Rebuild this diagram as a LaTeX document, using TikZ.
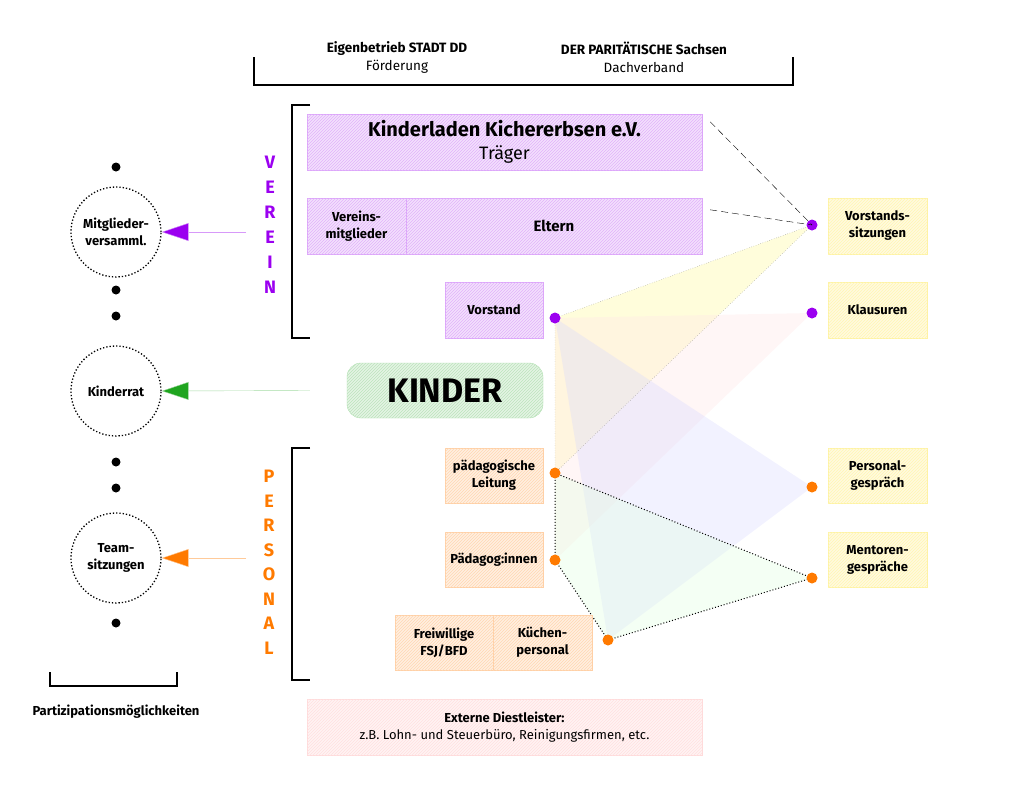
\documentclass[tikz,border=0pt]{standalone}
\usepackage{fontspec}
\setmainfont{Fira Sans}
\usetikzlibrary{patterns,arrows.meta}
\definecolor{verein}{HTML}{9B00F0}
\definecolor{personal}{HTML}{FF7A00}
\definecolor{kind}{HTML}{1FA51F}
\tikzset{
  box/.style={draw=#1!35,fill=#1!12,postaction={pattern=north east lines,pattern color=#1!30},
    inner sep=0pt,align=center,font=\fontsize{13}{17}\selectfont\bfseries},
  vbox/.style={box=verein},
  pbox/.style={box=personal},
  ybox/.style={box=yellow!80!orange},
  dot/.style={circle,fill=#1,inner sep=0pt,minimum size=11pt},
  forum/.style={circle,draw,dotted,line width=1.3pt,minimum size=90pt,align=center,
    font=\fontsize{13}{17}\selectfont\bfseries},
  bullet/.style={circle,fill=black,inner sep=0pt,minimum size=9pt},
  letter/.style={font=\fontsize{18}{18}\selectfont\bfseries,text=#1},
  lbl/.style={font=\fontsize{13.5}{18}\selectfont,align=center},
  tri/.style={fill=#1,fill opacity=0.35,draw=none}
}
\begin{document}
\begin{tikzpicture}[x=1pt,y=-1pt]
\useasboundingbox (0,0) rectangle (1024,804);
% top
\node[lbl] (stadt) at (397,57) {\textbf{Eigenbetrieb STADT DD}\\Förderung};
\node[lbl] (parit) at (644,57) {\textbf{DER PARITÄTISCHE Sachsen}\\Dachverband};
\draw[line width=1.3pt] (254,57) -- (254,85) -- (793,85) -- (793,57);
% brackets
\draw[line width=1.3pt] (310,105) -- (292,105) -- (292,338) -- (310,338);
\draw[line width=1.3pt] (310,448) -- (292,448) -- (292,680) -- (310,680);
\foreach \c [count=\i] in {V,E,R,E,I,N}
  \node[letter=verein] (v\i) at (270,137+25*\i) {\c};
\foreach \c [count=\i] in {P,E,R,S,O,N,A,L}
  \node[letter=personal] (p\i) at (269,452+24.5*\i) {\c};
% triangles
\coordinate (dV) at (555,318);
\coordinate (dL) at (555,473);
\coordinate (dP) at (555,560);
\coordinate (dK) at (608,640);
\coordinate (dS) at (812,225);
\coordinate (dX) at (812,313);
\coordinate (dG) at (812,487);
\coordinate (dM) at (812,578);
\fill[tri=yellow!40] (dV) -- (dS) -- (dL) -- cycle;
\fill[tri=pink!40] (dV) -- (dX) -- (dP) -- cycle;
\fill[tri=blue!15] (dV) -- (dG) -- (dK) -- cycle;
\fill[tri=green!12] (dL) -- (dM) -- (dK) -- (dP) -- cycle;
\draw[dotted,gray] (dV) -- (dS) -- (dL) -- (dV);
\draw[dotted,line width=1pt] (dL) -- (dM) -- (dK) -- (dP) -- (dL);
% boxes
\node[vbox,minimum width=395pt,minimum height=56pt] (traeger) at (504.5,142)
  {\fontsize{20}{24}\selectfont Kinderladen Kichererbsen e.V.\\[6pt]\fontsize{18}{22}\selectfont\mdseries Träger};
\node[vbox,minimum width=99pt,minimum height=56pt] (mitgl) at (356.5,226) {Vereins-\\mitglieder};
\node[vbox,minimum width=296pt,minimum height=56pt] (eltern) at (554,226) {\fontsize{15}{18}\selectfont Eltern};
\node[vbox,minimum width=98pt,minimum height=56pt] (vorstand) at (494,310) {Vorstand};
\node[box=kind,rounded corners=14pt,minimum width=196pt,minimum height=55pt,
  font=\fontsize{34}{34}\selectfont\bfseries] (kinder) at (445,390.5) {KINDER};
\node[pbox,minimum width=98pt,minimum height=55pt] (leitung) at (494,475.5) {pädagogische\\Leitung};
\node[pbox,minimum width=98pt,minimum height=55pt] (paed) at (494,559.5) {Pädagog:innen};
\node[pbox,minimum width=98pt,minimum height=55pt] (frei) at (444,642.5) {Freiwillige\\FSJ/BFD};
\node[pbox,minimum width=99pt,minimum height=55pt] (kueche) at (542.5,642.5) {Küchen-\\personal};
\node[box=pink!80!red,minimum width=395pt,minimum height=56pt] (extern) at (504.5,727)
  {Externe Diestleister:\\\mdseries z.B. Lohn- und Steuerbüro, Reinigungsfirmen, etc.};
\node[ybox,minimum width=99pt,minimum height=56pt] (sitz) at (877.5,226) {Vorstands-\\sitzungen};
\node[ybox,minimum width=99pt,minimum height=56pt] (klaus) at (877.5,310) {Klausuren};
\node[ybox,minimum width=99pt,minimum height=55pt] (gespr) at (877.5,475.5) {Personal-\\gespräch};
\node[ybox,minimum width=99pt,minimum height=55pt] (mentor) at (877.5,559.5) {Mentoren-\\gespräche};
% dots
\node[dot=verein] at (dV) {};
\node[dot=verein] at (dS) {};
\node[dot=verein] at (dX) {};
\node[dot=personal] at (dL) {};
\node[dot=personal] at (dP) {};
\node[dot=personal] at (dK) {};
\node[dot=personal] at (dG) {};
\node[dot=personal] at (dM) {};
\draw[dash pattern=on 7pt off 4pt] (traeger.north east) ++(8,8) coordinate (t1) -- (dS);
\draw[dash pattern=on 7pt off 4pt] (eltern.north east) ++(8,12) coordinate (e1) -- (dS);
% left side
\node[forum] (mv) at (116,232) {Mitglieder-\\versamml.};
\node[forum] (rat) at (116,391) {Kinderrat};
\node[forum] (team) at (116,558) {Team-\\sitzungen};
\foreach \y in {167,290,316,462,488,623}
  \node[bullet] at (116,\y) {};
\coordinate (av) at (246,232);
\coordinate (ap) at (246,558);
\draw[verein!40,-{Triangle[length=27pt,width=18pt,fill=verein]}] (av) -- (mv.east);
\draw[kind!40,-{Triangle[length=27pt,width=18pt,fill=kind]}] (kinder.west) ++(-37,0) -- (rat.east);
\draw[personal!40,-{Triangle[length=27pt,width=18pt,fill=personal]}] (ap) -- (team.east);
\draw[line width=1.3pt] (50,672) -- (50,686) -- (177,686) -- (177,672);
\node[lbl,font=\fontsize{13}{16}\selectfont\bfseries] (partiz) at (116,712) {Partizipationsmöglichkeiten};
\end{tikzpicture}
\end{document}
